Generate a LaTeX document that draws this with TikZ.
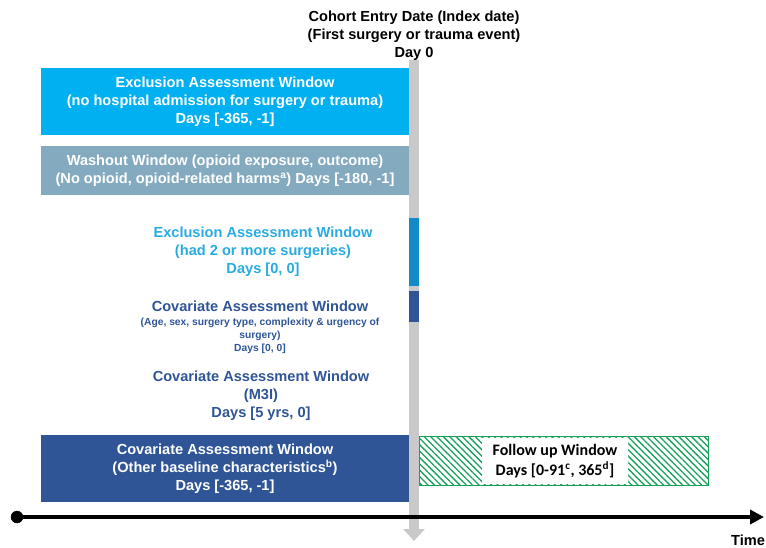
\documentclass[tikz,border=0pt]{standalone}
\usepackage{fontspec}
\setmainfont{Liberation Sans}
\newfontfamily\calfont{Carlito}
\usetikzlibrary{arrows.meta,patterns.meta}
\definecolor{exblue}{HTML}{00B0F0}
\definecolor{washgray}{HTML}{84AABF}
\definecolor{extext}{HTML}{29ABE2}
\definecolor{exbar}{HTML}{138BC6}
\definecolor{covblue}{HTML}{2F5597}
\definecolor{daybar}{HTML}{C9C9C9}
\definecolor{fugreen}{HTML}{17A05A}
\begin{document}
\begin{tikzpicture}[x=1pt,y=-1pt,
  every node/.style={font=\bfseries\fontsize{14.6}{18}\selectfont, align=center, inner sep=0pt},
  window/.style={minimum width=368pt, text=white}]
\useasboundingbox (0,0) rectangle (766,547);
% day 0 bar
\coordinate (bartop) at (414,60);
\coordinate (barend) at (414,541);
\draw[daybar, line width=10pt, -{Triangle[width=21pt,length=12pt]}] (bartop) -- (barend);
\fill[exbar] (409,218) rectangle (419,286);
\fill[covblue] (409,291) rectangle (419,322);
\node (index) at (414,36) {Cohort Entry Date (Index date)\\(First surgery or trauma event)\\Day 0};
% windows before index date
\node[window, fill=exblue, minimum height=67pt] (exclA) at (225,101.5)
  {Exclusion Assessment Window\\(no hospital admission for surgery or trauma)\\Days [-365, -1]};
\node[window, fill=washgray, minimum height=49pt] (washout) at (225,170.5)
  {Washout Window (opioid exposure, outcome)\\(No opioid, opioid-related harms\textsuperscript{a}) Days [-180, -1]};
\node[text=extext] (exclB) at (263,252)
  {Exclusion Assessment Window\\(had 2 or more surgeries)\\Days [0, 0]};
\node[text=covblue] (covA) at (260,306) {Covariate Assessment Window};
\node[text=covblue, font=\bfseries\fontsize{10.3}{13}\selectfont, anchor=north] (covAsub) at (260,317.5)
  {(Age, sex, surgery type, complexity \& urgency of\\surgery)\\Days [0, 0]};
\node[text=covblue] (covB) at (261,396)
  {Covariate Assessment Window\\(M3I)\\Days [5 yrs, 0]};
\node[window, fill=covblue, minimum height=67pt] (covC) at (225,468.5)
  {Covariate Assessment Window\\(Other baseline characteristics\textsuperscript{b})\\Days [-365, -1]};
% follow up
\draw[fugreen, pattern={Lines[angle=-45,distance=4.5pt,line width=1.3pt]}, pattern color=fugreen]
  (419.5,436) rectangle (708,485);
\node[fill=white, minimum width=146pt, minimum height=46pt, font=\calfont\bfseries\fontsize{16}{20}\selectfont] (follow) at (555,461)
  {Follow up Window\\Days [0-91\textsuperscript{c}, 365\textsuperscript{d}]};
% time axis
\coordinate (tstart) at (17,517);
\coordinate (tend) at (764,517);
\draw[line width=3.5pt, -{Triangle[width=14pt,length=14pt]}] (tstart) -- (tend);
\filldraw (tstart) circle[radius=6pt];
\node (time) at (748,540) {Time};
\end{tikzpicture}
\end{document}
